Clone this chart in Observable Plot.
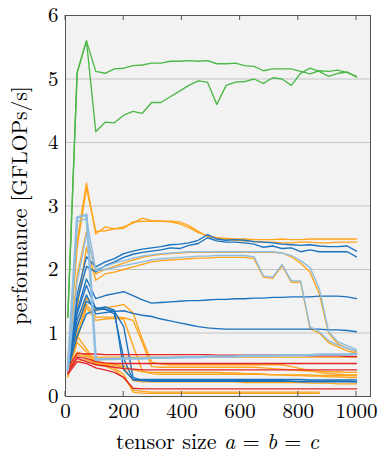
<!DOCTYPE html>
<html>
<head>
<meta charset="utf-8">
<script src="https://cdn.jsdelivr.net/npm/d3@7"></script>
<script src="https://cdn.jsdelivr.net/npm/@observablehq/plot@0.6"></script>
<style>
  body { margin: 0; background: #fff; }
</style>
</head>
<body>
<div id="chart"></div>
<script>
// Tensor sizes a = b = c at which every kernel was timed
const sizes = [8, 40, 72, 104, 136, 168, 200, 232, 264, 296, 328, 360, 392, 424, 456, 488,
               520, 552, 584, 616, 648, 680, 712, 744, 776, 808, 840, 872, 904, 936, 968, 1000];
const xTicks = [0, 200, 400, 600, 800, 1000];
const yTicks = [0, 1, 2, 3, 4, 5, 6];

// Performance in GFLOPs/s, one value per size
const greenA = [1.25, 5.1, 5.6, 5.12, 5.09, 5.16, 5.17, 5.21, 5.22, 5.25, 5.25, 5.28, 5.28, 5.29, 5.28, 5.29,
                5.24, 5.24, 5.25, 5.21, 5.2, 5.13, 5.16, 5.16, 5.16, 5.12, 5.08, 5.13, 5.12, 5.14, 5.1, 5.04];
const greenB = [1.25, 5.1, 5.6, 4.17, 4.32, 4.31, 4.43, 4.49, 4.46, 4.63, 4.63, 4.72, 4.81, 4.9, 4.97, 4.95,
                4.6, 4.9, 4.95, 4.96, 5.0, 4.93, 5.02, 5.0, 4.9, 5.09, 5.17, 5.12, 5.04, 5.09, 5.11, 5.03];

const orangeTopA = [0.55, 2.45, 3.36, 2.56, 2.67, 2.64, 2.67, 2.73, 2.81, 2.77, 2.76, 2.76, 2.75, 2.69, 2.6, 2.52,
                    2.5, 2.49, 2.48, 2.48, 2.47, 2.47, 2.47, 2.48, 2.47, 2.47, 2.48, 2.48, 2.48, 2.48, 2.48, 2.48];
const orangeTopB = [0.5, 2.35, 3.28, 2.6, 2.61, 2.64, 2.65, 2.75, 2.76, 2.76, 2.76, 2.75, 2.72, 2.66, 2.58, 2.53,
                    2.5, 2.48, 2.46, 2.45, 2.44, 2.43, 2.43, 2.42, 2.42, 2.43, 2.43, 2.42, 2.42, 2.43, 2.43, 2.43];
const orangeSmooth = [0.5, 1.9, 2.6, 1.93, 2.0, 2.05, 2.1, 2.15, 2.19, 2.22, 2.24, 2.25, 2.26, 2.27, 2.27, 2.27,
                      2.27, 2.27, 2.27, 2.27, 2.27, 2.27, 2.27, 2.26, 2.2, 2.1, 1.96, 1.62, 1.0, 0.83, 0.76, 0.7];
const orangeWavy = [0.45, 1.4, 2.35, 1.83, 1.93, 1.96, 2.0, 2.04, 2.08, 2.12, 2.14, 2.15, 2.16, 2.17, 2.18, 2.18,
                    2.19, 2.19, 2.19, 2.19, 2.17, 1.88, 1.86, 2.06, 1.8, 1.8, 1.07, 1.0, 0.85, 0.78, 0.72, 0.68];
const orangeDropA = [0.4, 1.1, 1.55, 1.35, 1.4, 1.42, 1.45, 1.32, 0.9, 0.54, 0.51, 0.5, 0.5, 0.5, 0.5, 0.5,
                     0.5, 0.5, 0.5, 0.5, 0.5, 0.5, 0.5, 0.5, 0.47, 0.44, 0.41, 0.38, 0.36, 0.35, 0.34, 0.34];
const orangeDropB = [0.35, 1.0, 1.45, 1.25, 1.25, 1.25, 1.24, 1.2, 0.85, 0.47, 0.46, 0.46, 0.46, 0.46, 0.46, 0.46,
                     0.46, 0.46, 0.46, 0.46, 0.46, 0.45, 0.44, 0.43, 0.42, 0.41, 0.4, 0.4, 0.39, 0.39, 0.38, 0.38];
const orangeDropC = [0.35, 0.9, 1.4, 1.2, 1.22, 1.23, 1.22, 0.8, 0.4, 0.36, 0.35, 0.35, 0.35, 0.35, 0.35, 0.35,
                     0.35, 0.35, 0.35, 0.35, 0.35, 0.35, 0.34, 0.34, 0.34, 0.34, 0.34, 0.33, 0.33, 0.33, 0.33, 0.33];
const orangeLowA = [0.4, 0.55, 0.58, 0.52, 0.5, 0.5, 0.48, 0.42, 0.39, 0.38, 0.38, 0.38, 0.38, 0.38, 0.38, 0.38,
                    0.38, 0.37, 0.37, 0.36, 0.36, 0.35, 0.34, 0.34, 0.33, 0.33, 0.32, 0.32, 0.31, 0.31, 0.3, 0.3];
const orangeLowB = [0.4, 0.7, 0.65, 0.55, 0.52, 0.5, 0.45, 0.25, 0.23, 0.23, 0.23, 0.23, 0.23, 0.23, 0.23, 0.23,
                    0.23, 0.23, 0.23, 0.22, 0.22, 0.22, 0.22, 0.22, 0.22, 0.22, 0.21, 0.21, 0.21, 0.2, 0.2, 0.2];
const orangeLowC = [0.35, 0.85, 0.7, 0.5, 0.48, 0.42, 0.3, 0.1, 0.08, 0.07, 0.07, 0.07, 0.07, 0.07, 0.07, 0.07,
                    0.07, 0.07, 0.07, 0.07, 0.07, 0.07, 0.07, 0.07, 0.07, 0.07, 0.07, 0.07];
const orangeLowD = [0.3, 0.95, 0.75, 0.55, 0.5, 0.45, 0.35, 0.07, 0.05, 0.05, 0.05, 0.05, 0.05, 0.05, 0.05, 0.05,
                    0.05, 0.05, 0.05, 0.05, 0.05, 0.05, 0.05, 0.05, 0.05, 0.05, 0.05, 0.05];
const orangeFlat = [0.5, 0.65, 0.63, 0.62, 0.62, 0.62, 0.62, 0.62, 0.62, 0.62, 0.62, 0.62, 0.62, 0.62, 0.62, 0.62,
                    0.62, 0.62, 0.62, 0.62, 0.62, 0.62, 0.62, 0.62, 0.62, 0.62, 0.62, 0.62, 0.62, 0.62, 0.62, 0.62];

const blueTopA = [0.45, 1.6, 2.2, 2.04, 2.12, 2.17, 2.25, 2.29, 2.32, 2.34, 2.36, 2.39, 2.4, 2.42, 2.46, 2.55,
                  2.48, 2.46, 2.47, 2.46, 2.44, 2.43, 2.42, 2.4, 2.39, 2.38, 2.39, 2.37, 2.36, 2.36, 2.37, 2.29];
const blueTopB = [0.4, 1.5, 2.05, 1.96, 2.06, 2.12, 2.19, 2.24, 2.27, 2.29, 2.31, 2.34, 2.33, 2.38, 2.41, 2.5,
                  2.45, 2.43, 2.43, 2.42, 2.4, 2.35, 2.37, 2.33, 2.34, 2.28, 2.31, 2.28, 2.28, 2.28, 2.28, 2.2];
const blueMid = [0.5, 1.35, 1.85, 1.54, 1.59, 1.62, 1.65, 1.59, 1.52, 1.47, 1.48, 1.49, 1.5, 1.51, 1.51, 1.52,
                 1.53, 1.53, 1.54, 1.54, 1.55, 1.55, 1.56, 1.56, 1.57, 1.57, 1.57, 1.58, 1.58, 1.58, 1.57, 1.54];
const blueLow = [0.45, 1.2, 1.6, 1.3, 1.32, 1.34, 1.35, 1.31, 1.28, 1.26, 1.22, 1.19, 1.16, 1.13, 1.1, 1.08,
                 1.07, 1.06, 1.06, 1.06, 1.06, 1.06, 1.06, 1.06, 1.06, 1.06, 1.06, 1.06, 1.05, 1.05, 1.04, 1.02];
const blueDropA = [0.45, 1.3, 1.75, 1.38, 1.41, 1.36, 0.42, 0.27, 0.27, 0.27, 0.27, 0.27, 0.27, 0.27, 0.27, 0.27,
                   0.27, 0.27, 0.27, 0.27, 0.27, 0.27, 0.27, 0.27, 0.27, 0.27, 0.26, 0.26, 0.26, 0.26, 0.26, 0.26];
const blueDropB = [0.4, 1.1, 1.5, 1.4, 1.37, 1.3, 0.6, 0.26, 0.25, 0.25, 0.25, 0.25, 0.25, 0.25, 0.25, 0.25,
                   0.25, 0.25, 0.25, 0.25, 0.25, 0.25, 0.25, 0.25, 0.24, 0.24, 0.24, 0.24, 0.24, 0.24, 0.24, 0.23];
const blueDropC = [0.42, 0.95, 1.3, 1.36, 1.38, 1.34, 1.1, 0.3, 0.25, 0.24, 0.24, 0.24, 0.24, 0.24, 0.24, 0.24,
                   0.24, 0.24, 0.24, 0.24, 0.24, 0.24, 0.24, 0.24, 0.24, 0.23, 0.23, 0.23, 0.23, 0.23, 0.23, 0.23];

const lightSmooth = [0.42, 2.75, 2.8, 2.0, 2.05, 2.1, 2.14, 2.18, 2.21, 2.23, 2.25, 2.26, 2.27, 2.28, 2.28, 2.28,
                     2.28, 2.28, 2.28, 2.28, 2.28, 2.28, 2.28, 2.26, 2.22, 2.14, 2.03, 1.7, 1.02, 0.86, 0.8, 0.74];
const lightWavy = [0.4, 1.8, 2.55, 1.98, 2.0, 2.03, 2.06, 2.09, 2.12, 2.15, 2.17, 2.18, 2.19, 2.2, 2.21, 2.21,
                   2.22, 2.22, 2.22, 2.22, 2.2, 1.9, 1.88, 2.08, 1.82, 1.82, 1.1, 1.02, 0.88, 0.81, 0.76, 0.72];
const lightThick = [0.42, 2.82, 2.86, 0.58, 0.59, 0.59, 0.6, 0.6, 0.6, 0.61, 0.61, 0.61, 0.62, 0.62, 0.62, 0.63,
                    0.63, 0.63, 0.63, 0.64, 0.64, 0.64, 0.64, 0.65, 0.65, 0.65, 0.65, 0.66, 0.66, 0.66, 0.66, 0.67];

const redA = [0.45, 0.68, 0.67, 0.67, 0.66, 0.66, 0.66, 0.66, 0.66, 0.66, 0.66, 0.66, 0.66, 0.66, 0.66, 0.66,
              0.65, 0.65, 0.65, 0.65, 0.65, 0.65, 0.65, 0.65, 0.65, 0.65, 0.64, 0.64, 0.64, 0.64, 0.63, 0.63];
const redB = [0.4, 0.62, 0.6, 0.55, 0.53, 0.52, 0.52, 0.52, 0.52, 0.52, 0.52, 0.52, 0.52, 0.52, 0.52, 0.52,
              0.52, 0.52, 0.52, 0.52, 0.52, 0.52, 0.52, 0.52, 0.52, 0.52, 0.52, 0.52, 0.52, 0.52, 0.52, 0.52];
const redC = [0.38, 0.6, 0.55, 0.5, 0.48, 0.46, 0.44, 0.43, 0.42, 0.42, 0.42, 0.42, 0.42, 0.42, 0.42, 0.42,
              0.42, 0.42, 0.42, 0.42, 0.42, 0.42, 0.42, 0.42, 0.42, 0.42, 0.42, 0.42, 0.42, 0.42, 0.42, 0.42];
const redD = [0.35, 0.55, 0.52, 0.45, 0.42, 0.38, 0.3, 0.13, 0.12, 0.12, 0.12, 0.12, 0.12, 0.12, 0.12, 0.12,
              0.12, 0.12, 0.12, 0.12, 0.12, 0.12, 0.12, 0.12, 0.12, 0.12, 0.12, 0.12, 0.12, 0.12, 0.12, 0.12];

// Kernel families, drawn bottom to top in this order
const families = ["amber", "navy", "crimson", "sky", "leaf"];
const familyColors = { amber: "#ffa41b", navy: "#1a72bf", crimson: "#e3262a", sky: "#8dbde0", leaf: "#4cb847" };

const series = [
  { id: "orangeTopA", family: "amber", ys: orangeTopA },
  { id: "orangeTopB", family: "amber", ys: orangeTopB },
  { id: "orangeSmooth", family: "amber", ys: orangeSmooth },
  { id: "orangeWavy", family: "amber", ys: orangeWavy },
  { id: "orangeDropA", family: "amber", ys: orangeDropA },
  { id: "orangeDropB", family: "amber", ys: orangeDropB },
  { id: "orangeDropC", family: "amber", ys: orangeDropC },
  { id: "orangeLowA", family: "amber", ys: orangeLowA },
  { id: "orangeLowB", family: "amber", ys: orangeLowB },
  { id: "orangeLowC", family: "amber", ys: orangeLowC },
  { id: "orangeLowD", family: "amber", ys: orangeLowD },
  { id: "orangeFlat", family: "amber", ys: orangeFlat },
  { id: "blueTopA", family: "navy", ys: blueTopA },
  { id: "blueTopB", family: "navy", ys: blueTopB },
  { id: "blueMid", family: "navy", ys: blueMid },
  { id: "blueLow", family: "navy", ys: blueLow },
  { id: "blueDropA", family: "navy", ys: blueDropA },
  { id: "blueDropB", family: "navy", ys: blueDropB },
  { id: "blueDropC", family: "navy", ys: blueDropC },
  { id: "redA", family: "crimson", ys: redA },
  { id: "redB", family: "crimson", ys: redB },
  { id: "redC", family: "crimson", ys: redC },
  { id: "redD", family: "crimson", ys: redD },
  { id: "lightSmooth", family: "sky", ys: lightSmooth },
  { id: "lightWavy", family: "sky", ys: lightWavy },
  { id: "lightThick", family: "sky", ys: lightThick },
  { id: "greenA", family: "leaf", ys: greenA },
  { id: "greenB", family: "leaf", ys: greenB }
];

const rows = series.flatMap(s => s.ys.map((y, i) => ({ id: s.id, family: s.family, x: sizes[i], y })));

const lineMarks = families.flatMap(f => {
  const thin = rows.filter(r => r.family === f && r.id !== "lightThick");
  const marks = [Plot.line(thin, { x: "x", y: "y", z: "id", stroke: familyColors[f], strokeWidth: 1.35, strokeLinejoin: "round" })];
  if (f === "sky") {
    marks.push(Plot.line(rows.filter(r => r.id === "lightThick"),
      { x: "x", y: "y", z: "id", stroke: familyColors[f], strokeWidth: 2.5, strokeLinejoin: "round" }));
  }
  return marks;
});

const serif = "'Latin Modern Roman', 'Liberation Serif', serif";

const chart = Plot.plot({
  width: 379,
  height: 458,
  marginLeft: 65,
  marginRight: 9,
  marginTop: 15,
  marginBottom: 62,
  style: { fontSize: "21px", color: "#000", background: "#fff", overflow: "visible" },
  x: { domain: [0, 1048] },
  y: { domain: [0, 6] },
  marks: [
    Plot.frame({ fill: "#f2f2f2" }),
    Plot.ruleY(yTicks.slice(1, -1), { stroke: "#c4c4c4", strokeWidth: 1 }),
    Plot.axisX(xTicks, { tickSize: 0, tickPadding: 7, fontSize: 21, label: null, tickFormat: d => String(d) }),
    Plot.axisY(yTicks, { tickSize: 0, tickPadding: 7, fontSize: 21, label: null, tickFormat: d => String(d) }),
    ...lineMarks,
    Plot.frame({ stroke: "#555", strokeWidth: 1 })
  ]
});

document.getElementById("chart").appendChild(chart);

// Inward tick marks on the top and bottom edges, plus the axis titles
const svg = d3.select(chart);
const xScale = chart.scale("x");
const yScale = chart.scale("y");
const yTopPx = yScale.apply(6);
const yBottomPx = yScale.apply(0);
const tickGroup = svg.append("g").attr("stroke", "#555").attr("stroke-width", 1);
for (const t of xTicks) {
  const px = xScale.apply(t);
  tickGroup.append("line").attr("x1", px).attr("x2", px).attr("y1", yBottomPx).attr("y2", yBottomPx - 5);
  tickGroup.append("line").attr("x1", px).attr("x2", px).attr("y1", yTopPx).attr("y2", yTopPx + 5);
}

const midX = (xScale.apply(0) + xScale.apply(1048)) / 2;
const xTitle = svg.append("text")
  .attr("x", midX).attr("y", 449)
  .attr("text-anchor", "middle")
  .attr("font-size", 22).attr("fill", "#000");
xTitle.append("tspan").text("tensor size ");
xTitle.append("tspan").attr("font-style", "italic").text("a");
xTitle.append("tspan").text(" = ");
xTitle.append("tspan").attr("font-style", "italic").text("b");
xTitle.append("tspan").text(" = ");
xTitle.append("tspan").attr("font-style", "italic").text("c");

const midY = (yTopPx + yBottomPx) / 2;
svg.append("text")
  .attr("transform", `translate(27,${midY}) rotate(-90)`)
  .attr("text-anchor", "middle")
  .attr("font-size", 21.5).attr("fill", "#000")
  .text("performance [GFLOPs/s]");

// Same typeface for every label in the figure
svg.selectAll("text").style("font-family", serif);
</script>
</body>
</html>
